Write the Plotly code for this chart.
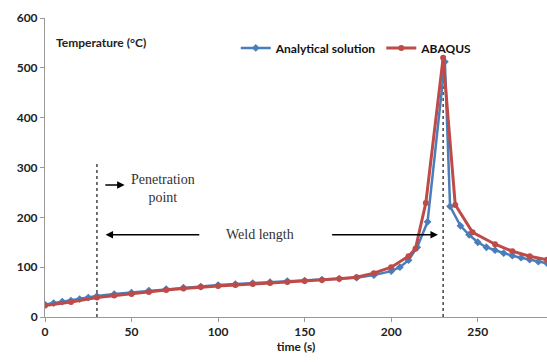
import plotly.graph_objects as go

t_analytical = [0, 5, 10, 15, 20, 25, 30, 40, 50, 60, 70, 80, 90, 100, 110, 120, 130, 140, 150,
                160, 170, 180, 190, 200, 205, 210, 215, 221, 231, 234, 240, 245, 250, 255,
                260, 265, 270, 275, 280, 285, 290]
T_analytical = [25, 28, 31, 33, 36, 39, 42, 46, 49, 53, 56, 59, 61, 64, 66, 68, 70, 72, 73,
                75, 77, 79, 84, 92, 100, 114, 140, 191, 512, 222, 183, 165, 150, 140,
                134, 128, 123, 119, 115, 111, 108]

t_abaqus = [0, 15, 30, 40, 50, 60, 70, 80, 90, 100, 110, 120, 130, 140, 150, 160, 170, 180,
            190, 200, 210, 214, 220, 230, 237, 247, 260, 270, 280, 290]
T_abaqus = [23, 30, 39, 43, 46, 50, 54, 57, 60, 62, 64, 66, 68, 70, 72, 74, 77, 80,
            88, 100, 122, 137, 229, 520, 225, 170, 146, 132, 122, 115]

x_ticks = [0, 50, 100, 150, 200, 250]
y_ticks = [0, 100, 200, 300, 400, 500, 600]

penetration_t = 30
peak_t = 230

BLUE = "#4a7ebb"
RED = "#be4b48"
FONT = "Lato"

fig = go.Figure()
fig.add_trace(go.Scatter(x=t_analytical, y=T_analytical, mode="lines+markers",
                         name="Analytical solution",
                         line=dict(color=BLUE, width=2.5),
                         marker=dict(symbol="diamond", size=6, color=BLUE)))
fig.add_trace(go.Scatter(x=t_abaqus, y=T_abaqus, mode="lines+markers",
                         name="ABAQUS",
                         line=dict(color=RED, width=3),
                         marker=dict(symbol="circle", size=6, color=RED)))

# dotted vertical lines
fig.add_shape(type="line", x0=penetration_t, x1=penetration_t, y0=0, y1=310,
              line=dict(color="#444", width=1.5, dash="dot"), layer="below")
fig.add_shape(type="line", x0=peak_t, x1=peak_t, y0=0, y1=522,
              line=dict(color="#444", width=1.5, dash="dot"), layer="below")

# penetration arrow
fig.add_annotation(x=46, y=265, ax=34, ay=265, xref="x", yref="y", axref="x", ayref="y",
                   showarrow=True, arrowhead=2, arrowsize=1, arrowwidth=1.5, arrowcolor="black", text="")
fig.add_annotation(x=68, y=258, xref="x", yref="y", showarrow=False,
                   text="Penetration<br>point",
                   font=dict(family="Liberation Serif", size=14, color="#333"))

# weld length arrows
fig.add_annotation(x=35, y=165, ax=90, ay=165, xref="x", yref="y", axref="x", ayref="y",
                   showarrow=True, arrowhead=2, arrowsize=1, arrowwidth=1.5, arrowcolor="black", text="")
fig.add_annotation(x=227, y=165, ax=165, ay=165, xref="x", yref="y", axref="x", ayref="y",
                   showarrow=True, arrowhead=2, arrowsize=1, arrowwidth=1.5, arrowcolor="black", text="")
fig.add_annotation(x=124, y=165, xref="x", yref="y", showarrow=False,
                   text="Weld length",
                   font=dict(family="Liberation Serif", size=14, color="#333"))

# y-axis title inside plot
fig.add_annotation(x=5, y=550, xref="x", yref="y", xanchor="left", showarrow=False,
                   text="<b>Temperature (°C)</b>",
                   font=dict(family=FONT, size=12, color="#222"))

fig.update_layout(
    width=547, height=362,
    margin=dict(l=45, r=0, t=18, b=45),
    paper_bgcolor="white", plot_bgcolor="white",
    font=dict(family=FONT, size=12, color="#222"),
    showlegend=True,
    legend=dict(orientation="h", x=0.38, y=0.90, xanchor="left", yanchor="middle",
                bgcolor="rgba(0,0,0,0)", font=dict(family=FONT, size=12, color="#111", weight="bold"),
                itemwidth=30, tracegroupgap=0),
)
fig.update_xaxes(range=[0, 290], tickvals=x_ticks, showgrid=False, zeroline=False,
                 showline=True, linecolor="#999", linewidth=1, ticks="outside", ticklen=4,
                 tickcolor="#999", tickfont=dict(family=FONT, size=12, color="#222", weight="bold"),
                 title=dict(text="<b>time (s)</b>", font=dict(family=FONT, size=12, color="#222"),
                            standoff=4))
fig.update_yaxes(range=[0, 600], tickvals=y_ticks, showgrid=False, zeroline=False,
                 showline=True, linecolor="#999", linewidth=1, ticks="outside", ticklen=4,
                 tickcolor="#999", tickfont=dict(family=FONT, size=12, color="#222", weight="bold"))

fig.write_html("out.html")
